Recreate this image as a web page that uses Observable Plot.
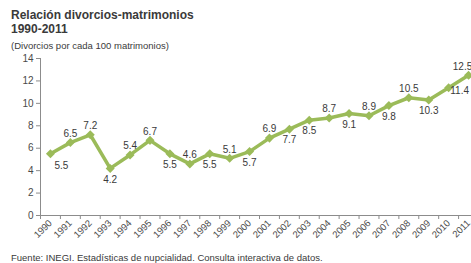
<!DOCTYPE html>
<html>
<head>
<meta charset="utf-8">
<script src="https://cdn.jsdelivr.net/npm/d3@7"></script>
<script src="https://cdn.jsdelivr.net/npm/@observablehq/plot@0.6"></script>
<style>
  html, body { margin: 0; padding: 0; background: #fff; overflow: hidden; }
  body { width: 471px; height: 263px; position: relative; font-family: "Liberation Sans", Arial, sans-serif; }
  #title { position: absolute; left: 11px; top: 8px; font-size: 12px; font-weight: bold; color: #3a3a3a; line-height: 14px; }
  #subtitle { position: absolute; left: 11px; top: 40px; font-size: 9.5px; color: #3a3a3a; }
  #chart { position: absolute; left: 0; top: 50px; }
  #caption { position: absolute; left: 11px; top: 252px; font-size: 9.5px; color: #3a3a3a; white-space: nowrap; }
</style>
</head>
<body>
<div id="title">Relación divorcios-matrimonios<br>1990-2011</div>
<div id="subtitle">(Divorcios por cada 100 matrimonios)</div>
<div id="chart"></div>
<div id="caption">Fuente: INEGI. Estadísticas de nupcialidad. Consulta interactiva de datos.</div>
<script>
const years = [1990,1991,1992,1993,1994,1995,1996,1997,1998,1999,2000,2001,2002,2003,2004,2005,2006,2007,2008,2009,2010,2011];
const values = [5.5,6.5,7.2,4.2,5.4,6.7,5.5,4.6,5.5,5.1,5.7,6.9,7.7,8.5,8.7,9.1,8.9,9.8,10.5,10.3,11.4,12.5];
const labelsBelow = [1993,1996,1998,2000,2002,2003,2005,2007,2009];
const yTicks = [0,2,4,6,8,10,12,14];

const data = years.map((y, i) => ({year: y, value: values[i]}));
const boundaries = [...years.map(y => y - 0.5), years[years.length - 1] + 0.5];
const green = "#9BBB59";
const axisGray = "#8c8c8c";
const txt = "#3a3a3a";
const fmt = d => d.value.toFixed(1);
const special = [1990, 2010, 2011];
const regular = data.filter(d => !special.includes(d.year));
const pick = y => data.filter(d => d.year === y);

const plot = Plot.plot({
  width: 471,
  height: 200,
  marginLeft: 40,
  marginRight: 0,
  marginTop: 8,
  marginBottom: 35,
  style: {fontFamily: "Liberation Sans, Arial, sans-serif", fontSize: "10px", overflow: "hidden"},
  x: {type: "linear", domain: [1989.5, 2011.5], range: [40, 478]},
  y: {domain: [0, 14], range: [165, 8]},
  marks: [
    Plot.axisY({ticks: yTicks, tickSize: 4, tickPadding: 3, stroke: axisGray, fill: "#4a4a4a", fontSize: 10, label: null}),
    Plot.axisX({ticks: boundaries, tickSize: 4, tickFormat: () => "", stroke: axisGray, label: null}),
    Plot.axisX({ticks: years, tickSize: 0, tickPadding: 6, tickRotate: -45, tickFormat: d => String(d), fill: "#4a4a4a", fontSize: 9.5, label: null}),
    Plot.ruleX([1989.5], {y1: 0, y2: 14, stroke: axisGray}),
    Plot.ruleY([0], {x1: 1989.5, x2: 2011.5, stroke: axisGray}),
    Plot.line(data, {x: "year", y: "value", stroke: green, strokeWidth: 3.5}),
    Plot.dot(data, {x: "year", y: "value", symbol: "square", rotate: 45, fill: green, r: 3.6}),
    Plot.text(regular.filter(d => !labelsBelow.includes(d.year)), {x: "year", y: "value", text: fmt, dy: -9, fill: txt, fontSize: 10}),
    Plot.text(regular.filter(d => labelsBelow.includes(d.year)), {x: "year", y: "value", text: fmt, dy: 11, fill: txt, fontSize: 10}),
    Plot.text(pick(1990), {x: "year", y: "value", text: fmt, dx: 11, dy: 12, fill: txt, fontSize: 10}),
    Plot.text(pick(2010), {x: "year", y: "value", text: fmt, dx: 11, dy: 3, fill: txt, fontSize: 10}),
    Plot.text(pick(2011), {x: "year", y: "value", text: fmt, dx: -6, dy: -9, fill: txt, fontSize: 10}),
  ]
});
document.getElementById("chart").appendChild(plot);
</script>
</body>
</html>
